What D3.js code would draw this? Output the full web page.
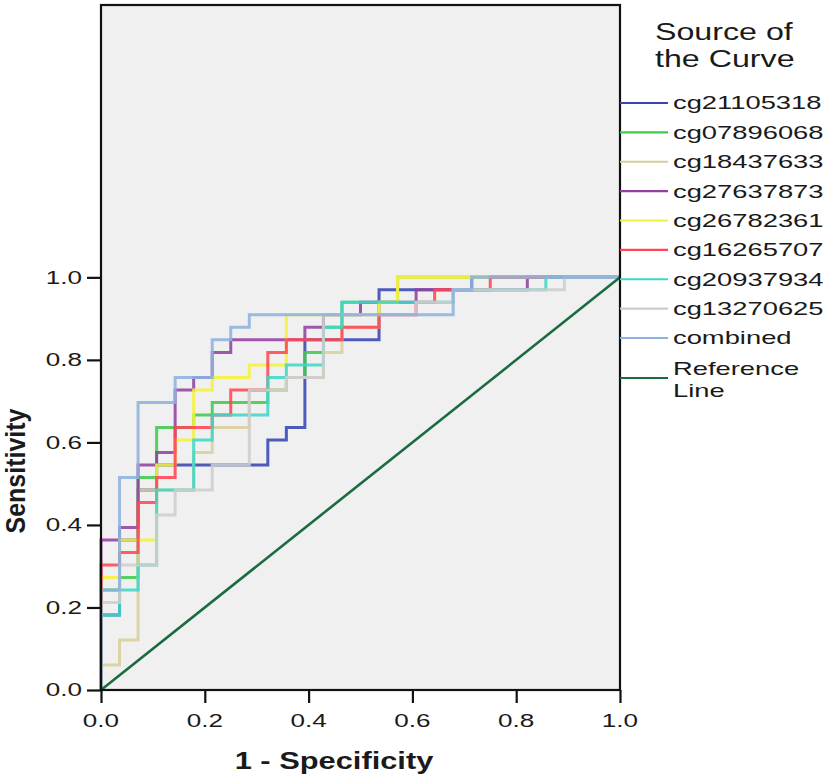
<!DOCTYPE html>
<html>
<head>
<meta charset="utf-8">
<script src="https://cdn.jsdelivr.net/npm/d3@7"></script>
<style>
  html, body { margin: 0; padding: 0; background: #ffffff; }
  svg { display: block; }
  text { font-family: Arial, "Liberation Sans", sans-serif; fill: #1a1a1a; }
</style>
</head>
<body>
<svg id="chart" width="826" height="775"></svg>
<script>
// ---------- data (ROC staircase vertices, as counts: false positives of nNeg, true positives of nPos) ----------
const nNeg = 28;
const nPos = 33;
const yMax = 1.66;
const xTicks = [0, 0.2, 0.4, 0.6, 0.8, 1.0];
const yTicks = [0, 0.2, 0.4, 0.6, 0.8, 1.0];
const seriesNames = ["cg21105318", "cg07896068", "cg18437633", "cg27637873", "cg26782361",
                     "cg16265707", "cg20937934", "cg13270625", "combined"];
const cg21105318 = [[0,0],[0,6],[1,6],[1,12],[2,12],[2,16],[3,16],[3,18],[9,18],[9,20],[10,20],[10,21],[11,21],[11,28],[15,28],[15,32],[20,32],[20,33],[28,33]];
const cg07896068 = [[0,0],[0,8],[1,8],[1,9],[2,9],[2,17],[3,17],[3,21],[5,21],[5,22],[6,22],[6,23],[9,23],[9,24],[10,24],[10,25],[11,25],[11,27],[12,27],[12,29],[13,29],[13,31],[16,31],[16,33],[28,33]];
const cg18437633 = [[0,0],[0,2],[1,2],[1,4],[2,4],[2,16],[5,16],[5,19],[6,19],[6,21],[8,21],[8,24],[10,24],[10,25],[12,25],[12,27],[13,27],[13,29],[15,29],[15,31],[16,31],[16,33],[28,33]];
const cg27637873 = [[0,0],[0,12],[1,12],[1,13],[2,13],[2,18],[3,18],[3,19],[4,19],[4,24],[5,24],[5,25],[6,25],[6,27],[7,27],[7,28],[11,28],[11,29],[12,29],[12,30],[14,30],[14,31],[17,31],[17,32],[23,32],[23,33],[28,33]];
const cg26782361 = [[0,0],[0,9],[1,9],[1,12],[3,12],[3,18],[4,18],[4,20],[5,20],[5,24],[6,24],[6,25],[8,25],[8,26],[10,26],[10,30],[15,30],[15,31],[16,31],[16,33],[28,33]];
const cg16265707 = [[0,0],[0,10],[1,10],[1,11],[2,11],[2,15],[3,15],[3,17],[4,17],[4,21],[6,21],[6,22],[7,22],[7,24],[9,24],[9,27],[10,27],[10,28],[13,28],[13,29],[15,29],[15,30],[17,30],[17,31],[18,31],[18,32],[21,32],[21,33],[28,33]];
const cg20937934 = [[0,0],[0,6],[1,6],[1,8],[2,8],[2,10],[3,10],[3,16],[5,16],[5,20],[6,20],[6,22],[9,22],[9,25],[10,25],[10,26],[12,26],[12,29],[13,29],[13,31],[19,31],[19,32],[24,32],[24,33],[28,33]];
const cg13270625 = [[0,0],[0,7],[1,7],[1,10],[3,10],[3,14],[4,14],[4,16],[6,16],[6,18],[8,18],[8,24],[10,24],[10,25],[12,25],[12,30],[17,30],[17,31],[19,31],[19,32],[25,32],[25,33],[28,33]];
const combined   = [[0,0],[0,8],[1,8],[1,17],[2,17],[2,23],[4,23],[4,25],[6,25],[6,28],[7,28],[7,29],[8,29],[8,30],[19,30],[19,32],[20,32],[20,33],[28,33]];
const seriesData = [cg21105318, cg07896068, cg18437633, cg27637873, cg26782361,
                    cg16265707, cg20937934, cg13270625, combined];
const referenceLine = [[0,0],[1,1]];

// ---------- styles ----------
const colors = ["#3646b4", "#3ecb4c", "#d8cf98", "#9240a2", "#f4f03a",
                "#ff4552", "#3fd6c6", "#cdcdcd", "#8db2de"];
const refColor = "#1b6b40";
const stretch = 1.45; // horizontal stretch of the original picture's lettering

const svg = d3.select("#chart");
const plotL = 101, plotR = 620, plotB = 690, plotT = 5;

const x = d3.scaleLinear().domain([0, 1]).range([plotL, plotR]);
const y = d3.scaleLinear().domain([0, yMax]).range([plotB, plotT]);

// plot background
svg.append("rect")
  .attr("x", x(0)).attr("y", y(yMax))
  .attr("width", x(1) - x(0)).attr("height", y(0) - y(yMax))
  .attr("fill", "#f0f0f0");

// curves
const line = d3.line()
  .x(d => x(d[0] / nNeg))
  .y(d => y(d[1] / nPos))
  .curve(d3.curveLinear);

seriesData.forEach((pts, i) => {
  svg.append("path")
    .datum(pts)
    .attr("d", line)
    .attr("fill", "none")
    .attr("stroke", colors[i])
    .attr("stroke-width", 3)
    .attr("stroke-opacity", 0.88)
    .attr("stroke-linejoin", "miter");
});

// reference line
svg.append("path")
  .datum(referenceLine)
  .attr("d", d3.line().x(d => x(d[0])).y(d => y(d[1])))
  .attr("fill", "none")
  .attr("stroke", refColor)
  .attr("stroke-width", 2.6);

// frame
svg.append("rect")
  .attr("x", x(0)).attr("y", y(yMax))
  .attr("width", x(1) - x(0)).attr("height", y(0) - y(yMax))
  .attr("fill", "none")
  .attr("stroke", "#111")
  .attr("stroke-width", 2.2);

// helper for stretched text
function sText(g, tx, ty, str, opts) {
  const k = opts.k || stretch;
  const t = g.append("text")
    .attr("transform", `translate(${tx},${ty}) scale(${k},1)`)
    .text(str);
  if (opts.size) t.attr("font-size", opts.size);
  if (opts.anchor) t.attr("text-anchor", opts.anchor);
  if (opts.weight) t.attr("font-weight", opts.weight);
  if (opts.dy) t.attr("dy", opts.dy);
  return t;
}

// x axis
const xAxis = d3.axisBottom(x).tickValues(xTicks).tickSize(13).tickFormat(d3.format(".1f"));
const gx = svg.append("g").attr("transform", `translate(0,${y(0)})`).call(xAxis);
gx.select(".domain").remove();
gx.selectAll(".tick line").attr("stroke", "#111").attr("stroke-width", 2.2);
gx.selectAll(".tick text").remove();
xTicks.forEach(v => sText(svg, x(v), 727, d3.format(".1f")(v), {size: 18, anchor: "middle"}).attr("fill", "#222"));

// y axis
const yAxis = d3.axisLeft(y).tickValues(yTicks).tickSize(14).tickFormat(d3.format(".1f"));
const gy = svg.append("g").attr("transform", `translate(${x(0)},0)`).call(yAxis);
gy.select(".domain").remove();
gy.selectAll(".tick line").attr("stroke", "#111").attr("stroke-width", 2.2);
gy.selectAll(".tick text").remove();
yTicks.forEach(v => sText(svg, 82, y(v), d3.format(".1f")(v), {size: 18, anchor: "end", dy: "0.36em"}).attr("fill", "#222"));

// axis titles
sText(svg, 334, 769, "1 - Specificity", {size: 23, anchor: "middle", weight: "bold", k: 1.34}).attr("fill", "#111");
svg.append("text")
  .attr("transform", `translate(25,${471}) rotate(-90) scale(1,1.12)`)
  .attr("text-anchor", "middle")
  .attr("font-size", 25)
  .attr("font-weight", "bold")
  .attr("fill", "#111")
  .text("Sensitivity");

// legend
sText(svg, 655, 40, "Source of", {size: 23, k: 1.4}).attr("fill", "#222");
sText(svg, 655, 67, "the Curve", {size: 23, k: 1.4}).attr("fill", "#222");

const legendY = d3.scalePoint().domain(seriesNames).range([103, 338]);
seriesNames.forEach((name, i) => {
  const yy = legendY(name);
  svg.append("line")
    .attr("x1", 620).attr("x2", 668).attr("y1", yy).attr("y2", yy)
    .attr("stroke", colors[i]).attr("stroke-width", 2.2);
  sText(svg, 673, yy, name, {size: 18, dy: "0.36em", k: 1.52}).attr("fill", "#1a1a1a");
});
svg.append("line")
  .attr("x1", 620).attr("x2", 668).attr("y1", 378).attr("y2", 378)
  .attr("stroke", refColor).attr("stroke-width", 2.2);
sText(svg, 673, 369, "Reference", {size: 18, dy: "0.36em", k: 1.52}).attr("fill", "#1a1a1a");
sText(svg, 673, 391, "Line", {size: 18, dy: "0.36em", k: 1.52}).attr("fill", "#1a1a1a");
</script>
</body>
</html>
